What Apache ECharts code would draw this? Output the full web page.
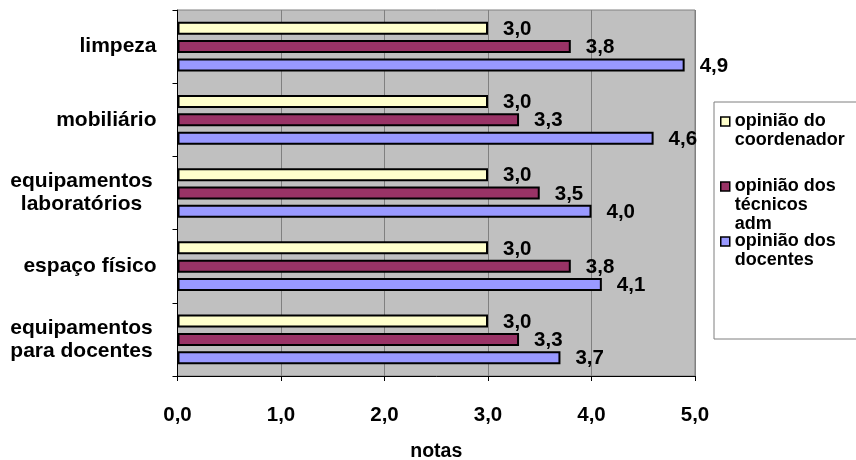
<!DOCTYPE html>
<html>
<head>
<meta charset="utf-8">
<script src="https://cdn.jsdelivr.net/npm/echarts@6/dist/echarts.min.js"></script>
<style>
html,body{margin:0;padding:0;background:#fff;}
#chart{width:856px;height:460px;}
</style>
</head>
<body>
<div id="chart"></div>
<script>
const categories = ['limpeza', 'mobiliário', 'equipamentos\nlaboratórios', 'espaço físico', 'equipamentos\npara docentes'];
const seriesNames = ['opinião do coordenador', 'opinião dos técnicos adm', 'opinião dos docentes'];
const coordenador = [3.0, 3.0, 3.0, 3.0, 3.0];
const tecnicos = [3.8, 3.3, 3.5, 3.8, 3.3];
const docentes = [4.9, 4.6, 4.0, 4.1, 3.7];
const xTicks = [0, 1, 2, 3, 4, 5];
const axisName = 'notas';

const FONT = "'Liberation Sans', Arial, sans-serif";
const colors = ['#FFFFCC', '#993366', '#9999FF'];
const legendText = {
  'opinião do coordenador': '\nopinião do\ncoordenador',
  'opinião dos técnicos adm': '\n\nopinião dos\ntécnicos\nadm',
  'opinião dos docentes': '\nopinião dos\ndocentes'
};
const fmt = v => v.toFixed(1).replace('.', ',');

const chart = echarts.init(document.getElementById('chart'), null, {renderer: 'canvas'});

function makeSeries(name, data, color) {
  return {
    name: name,
    type: 'bar',
    data: data,
    barWidth: 13,
    barGap: '41%',
    itemStyle: {color: color, borderColor: '#000', borderWidth: 2},
    label: {
      show: true,
      position: 'right',
      distance: 15,
      offset: [0, 1],
      formatter: p => fmt(p.value),
      fontFamily: FONT,
      fontSize: 20.5,
      fontWeight: 'bold',
      color: '#000'
    },
    silent: true,
    animation: false
  };
}

function legendAt(name, top) {
  return {
    data: [name],
    left: 720,
    top: top,
    orient: 'vertical',
    padding: 0,
    itemWidth: 9,
    itemHeight: 9,
    icon: 'rect',
    selectedMode: false,
    itemStyle: {borderColor: '#000', borderWidth: 1.5},
    formatter: n => legendText[n],
    textStyle: {fontFamily: FONT, fontSize: 18, fontWeight: 'bold', color: '#000', lineHeight: 19}
  };
}

const option = {
  animation: false,
  backgroundColor: '#fff',
  grid: {
    left: 177.5, right: 161, top: 10, bottom: 84,
    containLabel: false, outerBoundsMode: 'none',
    show: true, backgroundColor: '#c0c0c0', borderColor: '#808080', borderWidth: 1
  },
  graphic: [{
    type: 'rect', z: 0, silent: true,
    shape: {x: 714, y: 102, width: 150, height: 237},
    style: {fill: '#fff', stroke: '#7f7f7f', lineWidth: 1}
  }],
  legend: [
    legendAt(seriesNames[0], 93),
    legendAt(seriesNames[1], 139),
    legendAt(seriesNames[2], 213)
  ],
  xAxis: {
    type: 'value',
    min: xTicks[0], max: xTicks[xTicks.length - 1], interval: 1,
    name: axisName, nameLocation: 'middle', nameGap: 66,
    nameTextStyle: {fontFamily: FONT, fontSize: 19.5, fontWeight: 'bold', color: '#000'},
    axisLine: {show: true, lineStyle: {color: '#000', width: 1}},
    axisTick: {show: true, length: 5, lineStyle: {color: '#000'}},
    axisLabel: {formatter: v => fmt(v), margin: 29, fontFamily: FONT, fontSize: 20.5, fontWeight: 'bold', color: '#000'},
    splitLine: {show: true, lineStyle: {color: '#808080', width: 1}}
  },
  yAxis: {
    type: 'category',
    data: categories,
    inverse: true,
    axisLine: {show: true, lineStyle: {color: '#000', width: 1}},
    axisTick: {show: true, length: 5, lineStyle: {color: '#000'}},
    axisLabel: {
      margin: 21,
      fontFamily: FONT, fontSize: 21, fontWeight: 'bold', color: '#000', lineHeight: 23,
      formatter: v => v.indexOf('\n') >= 0 ? v.split('\n').map(s => '{c|' + s + '}').join('\n') : v,
      rich: {c: {width: 150, align: 'center', fontFamily: FONT, fontSize: 21, fontWeight: 'bold', color: '#000', lineHeight: 23}}
    },
    splitLine: {show: false}
  },
  series: [
    makeSeries(seriesNames[0], coordenador, colors[0]),
    makeSeries(seriesNames[1], tecnicos, colors[1]),
    makeSeries(seriesNames[2], docentes, colors[2])
  ]
};
chart.setOption(option);
</script>
</body>
</html>
